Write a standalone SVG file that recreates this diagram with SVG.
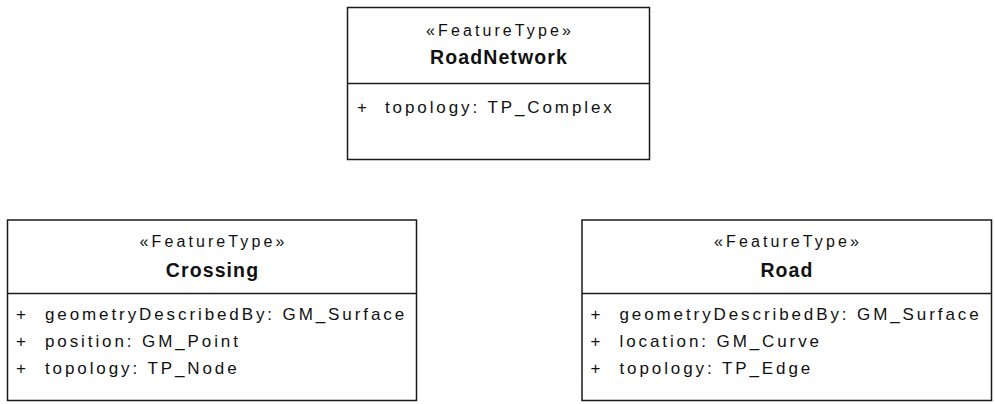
<svg xmlns="http://www.w3.org/2000/svg" width="995" height="404" viewBox="0 0 995 404">
<style>
.box{fill:#fff;stroke:#1a1a1a;stroke-width:1.5}
.div{stroke:#1a1a1a;stroke-width:1.5}
text{font-family:"Liberation Sans",Arial,sans-serif;font-size:17px;fill:#111;letter-spacing:2.9px}
.st{text-anchor:middle;font-size:16px;letter-spacing:3.1px}
.nm{text-anchor:middle;font-weight:bold;font-size:19.5px;letter-spacing:1.1px}
</style>
<rect width="995" height="404" fill="#fff"/>
<g id="RoadNetwork">
<rect class="box" x="347.5" y="7.5" width="302" height="152"/>
<line class="div" x1="347.5" y1="83.5" x2="649.5" y2="83.5"/>
<text class="st" x="500" y="36">«FeatureType»</text>
<text class="nm" x="499" y="64">RoadNetwork</text>
<text x="357" y="113">+</text>
<text x="385" y="113">topology: TP_Complex</text>
</g>
<g id="Crossing">
<rect class="box" x="7.5" y="220" width="409" height="180.5"/>
<line class="div" x1="7.5" y1="293.5" x2="416.5" y2="293.5"/>
<text class="st" x="213.5" y="246.5">«FeatureType»</text>
<text class="nm" x="212.5" y="276.5">Crossing</text>
<text x="16" y="320">+</text>
<text x="45" y="320">geometryDescribedBy: GM_Surface</text>
<text x="16" y="347">+</text>
<text x="45" y="347">position: GM_Point</text>
<text x="16" y="374">+</text>
<text x="45" y="374">topology: TP_Node</text>
</g>
<g id="Road">
<rect class="box" x="582" y="220" width="409.5" height="180.5"/>
<line class="div" x1="582" y1="293.5" x2="991.5" y2="293.5"/>
<text class="st" x="788" y="246.5">«FeatureType»</text>
<text class="nm" x="787" y="276.5">Road</text>
<text x="590.5" y="320">+</text>
<text x="619.5" y="320">geometryDescribedBy: GM_Surface</text>
<text x="590.5" y="347">+</text>
<text x="619.5" y="347">location: GM_Curve</text>
<text x="590.5" y="374">+</text>
<text x="619.5" y="374">topology: TP_Edge</text>
</g>
<g id="connectors"></g>
</svg>
